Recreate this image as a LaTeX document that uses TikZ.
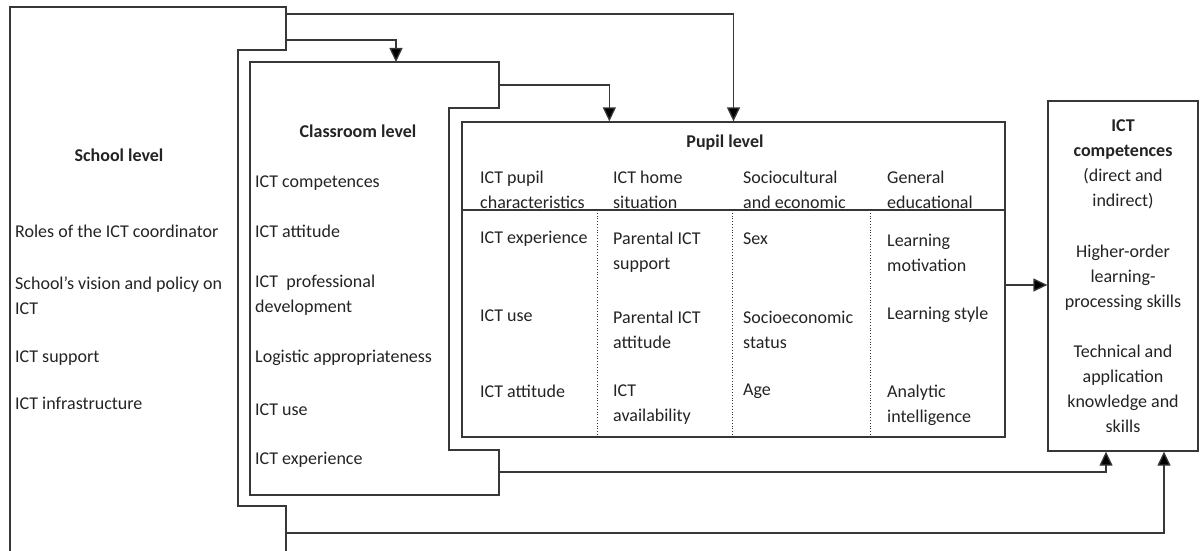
\documentclass[tikz,border=0pt]{standalone}
\usepackage{fontspec}
\setmainfont{Carlito}
\usetikzlibrary{arrows.meta}
\definecolor{LineGray}{RGB}{55,55,55}
\definecolor{TextGray}{RGB}{35,35,35}

\begin{document}
\begin{tikzpicture}[
    x=1pt, y=-1pt,
    txt/.style={anchor=west, align=left, inner sep=0pt, text=TextGray,
                font=\fontsize{18}{25}\selectfont},
    hdr/.style={txt, anchor=center, font=\fontsize{18}{25}\selectfont\bfseries},
    lvl/.style={draw=LineGray, line width=1.3pt},
    arr/.style={-{Triangle[length=14pt, width=13pt, fill=black]}, draw=LineGray,
                line width=1.3pt}
  ]
  \useasboundingbox (0,0) rectangle (1201,551);

  % school level
  \draw[lvl] (10,551) -- (10,7) -- (286,7) -- (286,50) -- (238,50)
        -- (238,506) -- (286,506) -- (286,551);
  \coordinate (s1) at (286,14);
  \coordinate (s2) at (286,40);
  \coordinate (s3) at (286,533);

  \node[hdr] (schT) at (119,155) {School level};
  \node[txt] (sch1) at (15,231)   {Roles of the ICT coordinator};
  \node[txt] (sch2) at (15,295.5) {School’s vision and policy on\\ICT};
  \node[txt] (sch3) at (15,358)   {ICT support};
  \node[txt] (sch4) at (15,403)   {ICT infrastructure};

  % classroom level
  \draw[lvl] (250,62) -- (499,62) -- (499,108) -- (449,108) -- (449,450)
        -- (499,450) -- (499,495) -- (250,495) -- cycle;
  \coordinate (ctop) at (396,62);
  \coordinate (c1) at (499,85);
  \coordinate (c2) at (499,472);

  \node[hdr] (clsT) at (358,131) {Classroom level};
  \node[txt] (cls1) at (255,183) {ICT competences};
  \node[txt] (cls2) at (255,231) {ICT attitude};
  \node[txt] (cls3) at (255,295) {ICT\ \ professional\\development};
  \node[txt] (cls4) at (255,358) {Logistic appropriateness};
  \node[txt] (cls5) at (255,410) {ICT use};
  \node[txt] (cls6) at (255,460) {ICT experience};

  % pupil level
  \node[lvl, minimum width=543pt, minimum height=315pt, inner sep=0pt]
        (pupil) at (733.5,279.5) {};
  \draw[lvl] (462,210) -- (1005,210);
  \foreach \x in {597, 732, 870} {
    \draw[LineGray, dotted, thick] (\x,210) -- (\x,437);
  }

  \node[hdr] (pupT) at (725,143) {Pupil level};
  \node[txt] (ph1) at (480,190) {ICT pupil\\characteristics};
  \node[txt] (ph2) at (613,190) {ICT home\\situation};
  \node[txt] (ph3) at (743,190) {Sociocultural\\and economic};
  \node[txt] (ph4) at (887,190) {General\\educational};

  \node[txt] (pa1) at (480,239)   {ICT experience};
  \node[txt] (pa2) at (613,252.5) {Parental ICT\\support};
  \node[txt] (pa3) at (743,239)   {Sex};
  \node[txt] (pa4) at (887,252.5) {Learning\\motivation};

  \node[txt] (pb1) at (480,316)   {ICT use};
  \node[txt] (pb2) at (613,329.5) {Parental ICT\\attitude};
  \node[txt] (pb3) at (743,329.5) {Socioeconomic\\status};
  \node[txt] (pb4) at (887,315)   {Learning style};

  \node[txt] (pc1) at (480,391)   {ICT attitude};
  \node[txt] (pc2) at (613,404.5) {ICT\\availability};
  \node[txt] (pc3) at (743,391)   {Age};
  \node[txt] (pc4) at (887,405)   {Analytic\\intelligence};

  % outcome
  \node[lvl, minimum width=150pt, minimum height=350pt, inner sep=0pt,
        align=center, text=TextGray, font=\fontsize{18}{25}\selectfont]
        (ict) at (1123,276)
        {\textbf{ICT}\\\textbf{competences}\\(direct and\\indirect)\\[26pt]
         Higher-order\\learning-\\processing skills\\[25pt]
         Technical and\\application\\knowledge and\\skills};

  % connectors
  \draw[arr] (s2) -| (ctop);
  \draw[arr] (s1) -| (pupil.north);
  \draw[arr] (c1) -| ([xshift=148pt]pupil.north west);
  \draw[arr] ([yshift=-5.5pt]pupil.east) -- ([yshift=-5.5pt]pupil.east -| ict.west);
  \draw[arr] (c2) -| ([xshift=-17pt]ict.south);
  \draw[arr] (s3) -| ([xshift=41pt]ict.south);
\end{tikzpicture}
\end{document}
